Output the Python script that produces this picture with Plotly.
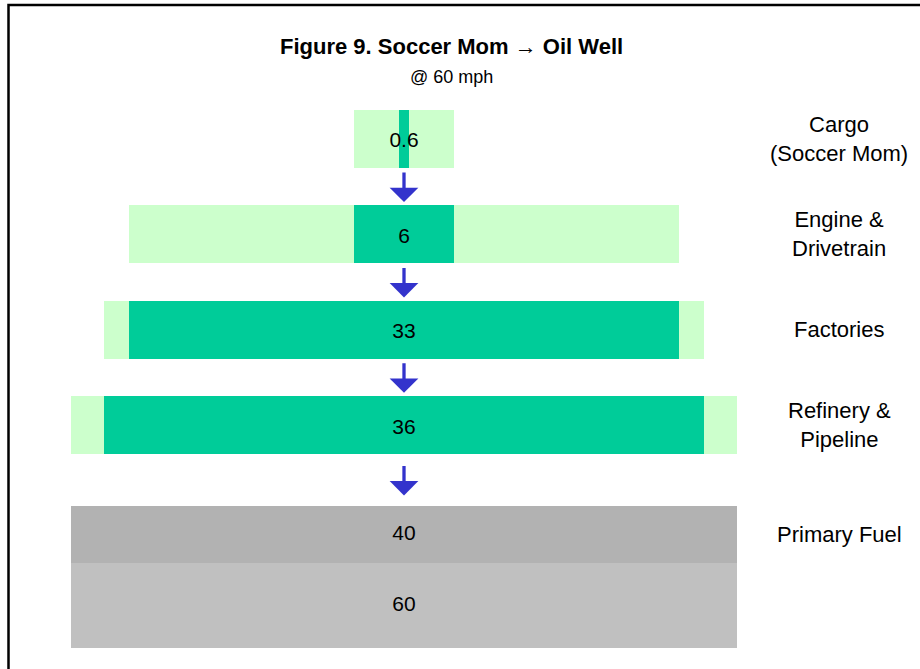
import plotly.graph_objects as go

# stage data (top to bottom)
stages = ["Cargo<br>(Soccer Mom)", "Engine &<br>Drivetrain", "Factories", "Refinery &<br>Pipeline"]
stage_out = [0.6, 6, 33, 36]      # energy delivered by each stage
stage_in = [6, 33, 36, 40]        # energy fed into each stage
primary_label = "Primary Fuel"
primary_parts = [40, 60]          # used / lost at the well

LIGHT = "#CCFFCC"
DARK = "#00CC99"
GREYS = ["#B2B2B2", "#C0C0C0"]
ARROW = "#3333CC"
FONT = "Arial, Liberation Sans, sans-serif"

# layout constants (axis units: one row step on y)
row_y = list(range(len(stages)))
bar_h = 0.605
prim_top = 3.848
prim_k = 0.01488                  # y units per unit of primary fuel
arrow_len = 0.325
text_drop = 0.035                 # value text sits a little below centre

fig = go.Figure()

fig.add_trace(go.Bar(
    y=row_y, x=stage_in, base=[-v / 2 for v in stage_in], orientation="h",
    width=bar_h, marker=dict(color=LIGHT, line=dict(width=0)), hoverinfo="skip",
))
fig.add_trace(go.Bar(
    y=row_y, x=stage_out, base=[-v / 2 for v in stage_out], orientation="h",
    width=bar_h, marker=dict(color=DARK, line=dict(width=0)), hoverinfo="skip",
))

# primary fuel block: stacked vertically, height proportional to value
prim_y, prim_w = [], []
top = prim_top
for v in primary_parts:
    h = v * prim_k
    prim_y.append(top + h / 2)
    prim_w.append(h)
    top += h
fig.add_trace(go.Bar(
    y=prim_y, x=[primary_parts[0]] * len(primary_parts),
    base=[-primary_parts[0] / 2] * len(primary_parts), orientation="h",
    width=prim_w, marker=dict(color=GREYS, line=dict(width=0)), hoverinfo="skip",
))

# value labels
fig.add_trace(go.Scatter(
    x=[0] * (len(stage_out) + len(primary_parts)),
    y=[y + text_drop for y in row_y] + prim_y,
    text=[f"{v:g}" for v in stage_out + primary_parts],
    mode="text", textfont=dict(family=FONT, size=21, color="black"),
    hoverinfo="skip",
))

# arrows between stages
tops = [y - bar_h / 2 for y in row_y[1:]] + [prim_top]
bottoms = [y + bar_h / 2 for y in row_y]
for b, t in zip(bottoms, tops):
    mid = (b + t) / 2
    fig.add_annotation(
        x=0, y=mid + arrow_len / 2, ax=0, ay=mid - arrow_len / 2,
        xref="x", yref="y", axref="x", ayref="y", text="",
        showarrow=True, arrowhead=1, arrowsize=1.45, arrowwidth=3.3,
        arrowcolor=ARROW, standoff=0,
    )

# stage names on the right
for name, y in zip(stages + [primary_label], row_y + [prim_y[0]]):
    fig.add_annotation(
        x=0.912, y=y, xref="paper", yref="y", text=name, showarrow=False,
        xanchor="center", yanchor="middle",
        font=dict(family=FONT, size=22, color="black"),
    )

fig.add_annotation(
    x=0.491, y=1 - 46 / 669, xref="paper", yref="paper",
    text="<b>Figure 9. Soccer Mom \u2192 Oil Well</b>", showarrow=False,
    font=dict(family=FONT, size=22, color="black"), yanchor="middle",
)
fig.add_annotation(
    x=0.491, y=1 - 77 / 669, xref="paper", yref="paper",
    text="@ 60 mph", showarrow=False,
    font=dict(family=FONT, size=18, color="black"), yanchor="middle",
)

# frame
fig.add_shape(
    type="rect", xref="paper", yref="paper",
    x0=8.5 / 920, x1=1.05, y0=-0.05, y1=1 - 5 / 669,
    line=dict(color="black", width=2.5), fillcolor="rgba(0,0,0,0)",
)

fig.update_layout(
    width=920, height=669,
    margin=dict(l=0, r=0, t=0, b=0),
    barmode="overlay", bargap=0,
    showlegend=False,
    plot_bgcolor="white", paper_bgcolor="white",
    font=dict(family=FONT),
)
fig.update_xaxes(range=[-24.24, 30.96], visible=False, fixedrange=True)
fig.update_yaxes(range=[5.557, -1.4555], visible=False, fixedrange=True)

fig.write_html(
    "out.html",
    config={"displayModeBar": False},
    post_script="document.body.style.margin='0';",
)
